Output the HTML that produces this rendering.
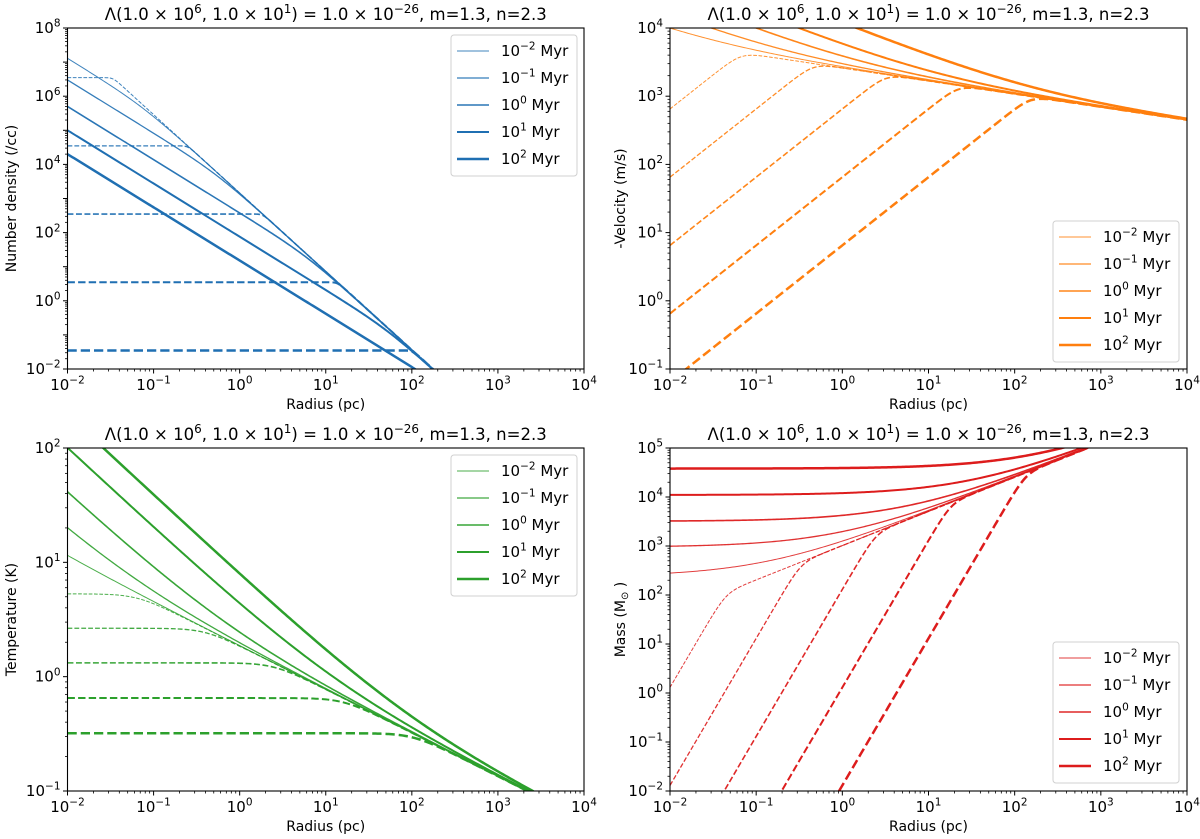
<!DOCTYPE html>
<html><head><meta charset="utf-8"><style>
html,body{margin:0;padding:0;background:#fff;overflow:hidden;}
svg{display:block;font-family:"DejaVu Sans","Liberation Sans",sans-serif;}
</style></head><body>
<svg id="fig" width="1200" height="839" viewBox="0 0 1200 839" xmlns="http://www.w3.org/2000/svg"></svg>
<script>
// ---- data ----
const times = [0.01, 0.1, 1, 10, 100];
const timeExp = [-2, -1, 0, 1, 2];
// density panel
const densInner = [1.3e7, 3e6, 5e5, 1e5, 2e4];
const densPlateau = [3.5e6, 3.5e4, 3.5e2, 3.5, 3.5e-2];
const densAsymRef = [0.25, 3.5e4];
const densAsymSlope = -2.3;
const densInnerSlope = -1.56;
// velocity panel
const velInner = [7.8e3, 1.5e4, 2.9e4, 5.3e4, 1.18e5];
const velRise = [650, 65, 6.5, 0.65, 0.065];
const velAsymRef = [1000, 700];
const velAsymSlope = -0.19;
// temperature panel
const tempInner = [4.2, 17, 40, 100, 195];
const tempPlateau = [5.3, 2.65, 1.32, 0.65, 0.32];
const tempAsymRef = [2200, 0.1];
const tempAsymSlope = -0.38;
// mass panel
const massPlateau = [240, 950, 3.2e3, 1.1e4, 3.8e4];
const massRise = [1.3, 0.013, 1.3e-4, 1.3e-6, 1.3e-8];
const massAsymRef = [700, 1e5];
const massAsymSlope = 0.7;
// ticks
const xTickExp = [-2, -1, 0, 1, 2, 3, 4];

const NS = "http://www.w3.org/2000/svg";
const svg = document.getElementById('fig');
function mk(tag, attrs, parent) {
  const e = document.createElementNS(NS, tag);
  for (const k in attrs) e.setAttribute(k, attrs[k]);
  (parent || svg).appendChild(e);
  return e;
}
const lws = [1.0, 1.3, 1.6, 2.0, 2.5];
const alphas = [0.85, 0.9, 0.95, 1, 1];

function powText(parent, x, y, exp, anchor, size, suffix) {
  const t = mk('text', {x: x, y: y, 'font-size': size, 'text-anchor': anchor, fill: '#000'}, parent);
  const a = document.createElementNS(NS, 'tspan'); a.textContent = '10'; t.appendChild(a);
  const b = document.createElementNS(NS, 'tspan');
  b.setAttribute('dy', -size * 0.42); b.setAttribute('font-size', size * 0.7);
  b.textContent = String(exp).replace('-', '\u2212'); t.appendChild(b);
  if (suffix) {
    const c = document.createElementNS(NS, 'tspan');
    c.setAttribute('dy', size * 0.42); c.textContent = suffix; t.appendChild(c);
  }
  return t;
}

function panel(opts) {
  const g = mk('g', {});
  
  
  const L = opts.x0, R = opts.x1, T = opts.y0, B = opts.y1;
  const xs = v => L + (Math.log10(v) + 2) / 6 * (R - L);
  const ys = v => B - (Math.log10(v) - opts.ymin) / (opts.ymax - opts.ymin) * (B - T);
  const cid = 'clip-' + opts.name;
  const cp = mk('clipPath', {id: cid}, g);
  mk('rect', {x: L, y: T, width: R - L, height: B - T}, cp);
  const sg = mk('g', {'clip-path': 'url(#' + cid + ')'}, g);
  const N = 320;
  const rs = [];
  for (let i = 0; i <= N; i++) rs.push(Math.pow(10, -2 + 6 * i / N));
  for (let s = 0; s < 5; s++) {
    ['solid', 'dashed'].forEach(kind => {
      let d = '';
      rs.forEach((r, i) => {
        const v = opts.f(kind, s, r);
        let yv = ys(Math.max(v, 1e-30));
        yv = Math.max(Math.min(yv, B + 6), T - 6);
        d += (i ? 'L' : 'M') + xs(r).toFixed(2) + ',' + yv.toFixed(2);
      });
      const p = mk('path', {d: d, fill: 'none', stroke: opts.color, 'stroke-width': lws[s], 'stroke-opacity': alphas[s]}, sg);
      if (kind === 'dashed') p.setAttribute('stroke-dasharray', (3.7 * lws[s]) + ' ' + (1.6 * lws[s]));
      
      
    });
  }
  mk('rect', {x: L, y: T, width: R - L, height: B - T, fill: 'none', stroke: '#000', 'stroke-width': 1.1}, g);
  const xt = mk('g', {}, g);
  
  
  xTickExp.forEach(e => {
    const x = xs(Math.pow(10, e));
    mk('line', {x1: x, x2: x, y1: B, y2: B + 4.5, stroke: '#000', 'stroke-width': 1}, xt);
    powText(xt, x, B + 21, e, 'middle', 15);
    if (e < 4) for (let m = 2; m < 10; m++) {
      const xm = xs(m * Math.pow(10, e));
      mk('line', {x1: xm, x2: xm, y1: B, y2: B + 2.5, stroke: '#000', 'stroke-width': 0.8}, xt);
    }
  });
  const xl = mk('text', {x: (L + R) / 2, y: B + 40, 'font-size': 14, 'text-anchor': 'middle'}, g);
  xl.textContent = 'Radius (pc)';
  
  
  const yt = mk('g', {}, g);
  
  
  for (let e = opts.ymin; e <= opts.ymax; e++) {
    const y = ys(Math.pow(10, e));
    mk('line', {x1: L - 4.5, x2: L, y1: y, y2: y, stroke: '#000', 'stroke-width': 1}, yt);
    if ((e - opts.ymin) % opts.ystep === 0) powText(yt, L - 7, y + 5, e, 'end', 15);
    if (e < opts.ymax) for (let m = 2; m < 10; m++) {
      const ym = ys(m * Math.pow(10, e));
      mk('line', {x1: L - 2.5, x2: L, y1: ym, y2: ym, stroke: '#000', 'stroke-width': 0.8}, yt);
    }
  }
  const yl = mk('text', {x: 0, y: 0, 'font-size': 14, 'text-anchor': 'middle', transform: 'translate(' + opts.ylx + ',' + ((T + B) / 2) + ') rotate(-90)'}, g);
  yl.innerHTML = opts.ylabel;
  
  
  const tt = mk('text', {x: (L + R) / 2, y: T - 8, 'font-size': 16.5, 'text-anchor': 'middle'}, g);
  tt.innerHTML = '\u039B(1.0 \u00D7 10<tspan dy="-7" font-size="12">6</tspan><tspan dy="7">, 1.0 \u00D7 10</tspan><tspan dy="-7" font-size="12">1</tspan><tspan dy="7">) = 1.0 \u00D7 10</tspan><tspan dy="-7" font-size="12">\u221226</tspan><tspan dy="7">, m=1.3, n=2.3</tspan>';
  
  
  const lg = mk('g', {}, g);
  
  
  const lx = opts.legX, ly = opts.legY;
  mk('rect', {x: lx, y: ly, width: 126, height: 141, rx: 3, fill: '#fff', 'fill-opacity': 0.85, stroke: '#d0d0d0', 'stroke-width': 1}, lg);
  for (let s = 0; s < 5; s++) {
    const yy = ly + 16 + s * 27;
    const en = mk('g', {}, lg);
    
    
    mk('line', {x1: lx + 6, x2: lx + 38, y1: yy, y2: yy, stroke: opts.color, 'stroke-width': lws[s], 'stroke-opacity': alphas[s]}, en);
    powText(en, lx + 50, yy + 5, timeExp[s], 'start', 15, ' Myr');
  }
}

function blendMin(a, b, p) { return Math.pow(Math.pow(a, -p) + Math.pow(b, -p), -1 / p); }

panel({name: 'density-panel', short: 'density', x0: 67.5, x1: 584, y0: 28, y1: 369, ymin: -2, ymax: 8, ystep: 2,
  color: '#1f6fb2', ylx: 16, ylabel: 'Number density (/cc)', legX: 451, legY: 35,
  f: (kind, s, r) => {
    const A = densAsymRef[1] * Math.pow(r / densAsymRef[0], densAsymSlope);
    if (kind === 'solid') return blendMin(densInner[s] * Math.pow(r / 0.01, densInnerSlope), A, 3);
    return blendMin(densPlateau[s], A, 8);
  }});

panel({name: 'velocity-panel', short: 'velocity', x0: 670, x1: 1187, y0: 28, y1: 369, ymin: -1, ymax: 4, ystep: 1,
  color: '#ff7f0e', ylx: 625, ylabel: '-Velocity (m/s)', legX: 1053, legY: 221,
  f: (kind, s, r) => {
    const A = velAsymRef[1] * Math.pow(r / velAsymRef[0], velAsymSlope);
    if (kind === 'solid') { const b = velInner[s] * Math.pow(r / 0.01, -0.5); return Math.sqrt(b * b + A * A); }
    return blendMin(velRise[s] * (r / 0.01), A, 5);
  }});

panel({name: 'temperature-panel', short: 'temperature', x0: 67.5, x1: 584, y0: 448, y1: 791, ymin: -1, ymax: 2, ystep: 1,
  color: '#2ca02c', ylx: 16, ylabel: 'Temperature (K)', legX: 451, legY: 455,
  f: (kind, s, r) => {
    const A = tempAsymRef[1] * Math.pow(r / tempAsymRef[0], tempAsymSlope);
    if (kind === 'solid') { const b = tempInner[s] * Math.pow(r / 0.01, -0.7); return Math.sqrt(b * b + A * A); }
    return blendMin(tempPlateau[s], A, 8);
  }});

panel({name: 'mass-panel', short: 'mass', x0: 670, x1: 1187, y0: 448, y1: 791, ymin: -2, ymax: 5, ystep: 1,
  color: '#dd1c1c', ylx: 625, ylabel: 'Mass (M<tspan font-size="10" dy="3">\u2299</tspan><tspan dy="-3"> )</tspan>', legX: 1053, legY: 642,
  f: (kind, s, r) => {
    const A = massAsymRef[1] * Math.pow(r / massAsymRef[0], massAsymSlope);
    if (kind === 'solid') return massPlateau[s] + A;
    return blendMin(massRise[s] * Math.pow(r / 0.01, 3), A, 3);
  }});
</script>
</body></html>
